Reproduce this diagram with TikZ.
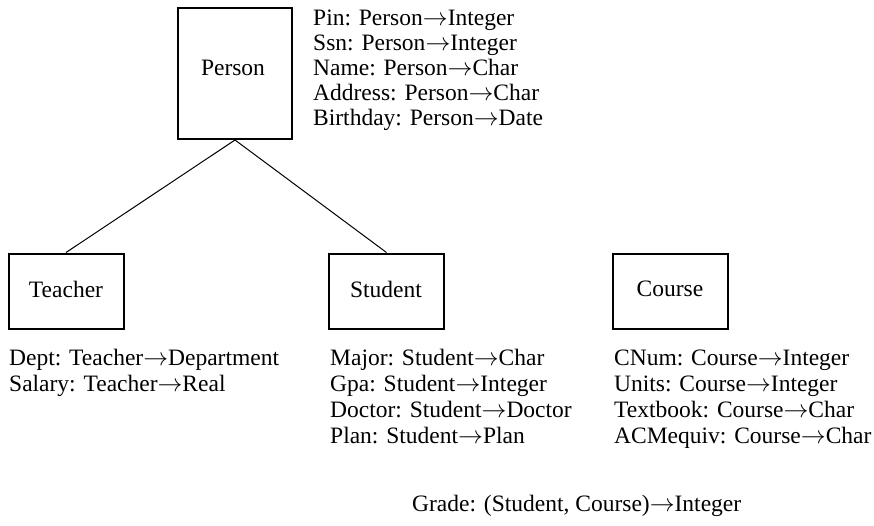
\documentclass[tikz,border=0pt]{standalone}
\usepackage{fontspec}
\setmainfont{Liberation Serif}
\newcommand{\ar}{\ensuremath{\rightarrow}}
\begin{document}
\begin{tikzpicture}[x=1pt,y=-1pt,
  box/.style={draw,line width=2pt,inner sep=0pt},
  lbl/.style={font=\fontsize{23.5}{25}\selectfont,inner sep=0pt},
  attr/.style={font=\fontsize{23.5}{25}\selectfont,inner sep=0pt,anchor=base west},
  attrb/.style={font=\fontsize{23.5}{26}\selectfont,inner sep=0pt,anchor=base west},
  link/.style={line width=1pt}]
\useasboundingbox (0,0) rectangle (874,525);
\node[box,minimum width=114,minimum height=131] (person) at (235,73.5) {};
\node[lbl] (personl) at (233,68) {Person};
\node[box,minimum width=115,minimum height=75] (teacher) at (66,291) {};
\node[lbl] (teacherl) at (66,289) {Teacher};
\node[box,minimum width=115,minimum height=75] (student) at (386.5,291) {};
\node[lbl] (studentl) at (386,289) {Student};
\node[box,minimum width=115,minimum height=75] (course) at (670,291) {};
\node[lbl] (coursel) at (670,289) {Course};
\draw[link] (person.south) -- (teacher.north);
\draw[link] (person.south) -- (student.north);
\node[attr] (pattr) at (313,25) {\begin{tabular}[t]{@{}l@{}}Pin: Person\ar Integer\\Ssn: Person\ar Integer\\Name: Person\ar Char\\Address: Person\ar Char\\Birthday: Person\ar Date\end{tabular}};
\node[attrb] (tattr) at (9,365) {\begin{tabular}[t]{@{}l@{}}Dept: Teacher\ar Department\\Salary: Teacher\ar Real\end{tabular}};
\node[attrb] (sattr) at (330,365) {\begin{tabular}[t]{@{}l@{}}Major: Student\ar Char\\Gpa: Student\ar Integer\\Doctor: Student\ar Doctor\\Plan: Student\ar Plan\end{tabular}};
\node[attrb] (cattr) at (614,365) {\begin{tabular}[t]{@{}l@{}}CNum: Course\ar Integer\\Units: Course\ar Integer\\Textbook: Course\ar Char\\ACMequiv: Course\ar Char\end{tabular}};
\node[attr] (grade) at (412,511) {Grade: (Student, Course)\ar Integer};
\end{tikzpicture}
\end{document}
